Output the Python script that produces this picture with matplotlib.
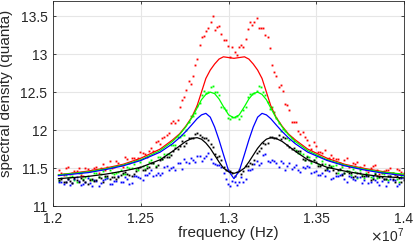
import matplotlib
matplotlib.use('Agg')
import matplotlib.pyplot as plt

plt.rcParams['font.family'] = ['Liberation Sans', 'DejaVu Sans']

# measured points (frequency in units of 1e7 Hz), two interleaved sweeps
freq_pts_a = [1.2035, 1.2060, 1.2085, 1.2110, 1.2135, 1.2160, 1.2185, 1.2210, 1.2235, 1.2260,
              1.2285, 1.2310, 1.2335, 1.2360, 1.2385, 1.2410, 1.2435, 1.2460, 1.2485, 1.2510,
              1.2535, 1.2560, 1.2585, 1.2610, 1.2635, 1.2660, 1.2685, 1.2710, 1.2735, 1.2760,
              1.2785, 1.2810, 1.2835, 1.2860, 1.2885, 1.2910, 1.2935, 1.2960, 1.2985, 1.3010,
              1.3035, 1.3060, 1.3085, 1.3110, 1.3135, 1.3160, 1.3185, 1.3210, 1.3235, 1.3260,
              1.3285, 1.3310, 1.3335, 1.3360, 1.3385, 1.3410, 1.3435, 1.3460, 1.3485, 1.3510,
              1.3535, 1.3560, 1.3585, 1.3610, 1.3635, 1.3660, 1.3685, 1.3710, 1.3735, 1.3760,
              1.3785, 1.3810, 1.3835, 1.3860, 1.3885, 1.3910, 1.3935, 1.3960, 1.3985]

freq_pts_b = [1.20475, 1.20725, 1.20975, 1.21225, 1.21475, 1.21725, 1.21975, 1.22225, 1.22475, 1.22725,
              1.22975, 1.23225, 1.23475, 1.23725, 1.23975, 1.24225, 1.24475, 1.24725, 1.24975, 1.25225,
              1.25475, 1.25725, 1.25975, 1.26225, 1.26475, 1.26725, 1.26975, 1.27225, 1.27475, 1.27725,
              1.27975, 1.28225, 1.28475, 1.28725, 1.28975, 1.29225, 1.29475, 1.29725, 1.29975, 1.30225,
              1.30475, 1.30725, 1.30975, 1.31225, 1.31475, 1.31725, 1.31975, 1.32225, 1.32475, 1.32725,
              1.32975, 1.33225, 1.33475, 1.33725, 1.33975, 1.34225, 1.34475, 1.34725, 1.34975, 1.35225,
              1.35475, 1.35725, 1.35975, 1.36225, 1.36475, 1.36725, 1.36975, 1.37225, 1.37475, 1.37725,
              1.37975, 1.38225, 1.38475, 1.38725, 1.38975, 1.39225, 1.39475, 1.39725, 1.39975]

red_pts_a = [11.47, 11.41, 11.51, 11.43, 11.46, 11.41, 11.50, 11.46, 11.50, 11.43,
             11.55, 11.52, 11.50, 11.59, 11.54, 11.64, 11.56, 11.63, 11.63, 11.70,
             11.65, 11.76, 11.84, 11.82, 11.91, 11.96, 12.12, 12.13, 12.40, 12.53,
             12.61, 12.86, 13.12, 13.24, 13.35, 13.50, 13.36, 13.26, 13.18, 12.96,
             13.03, 13.10, 13.10, 13.33, 13.38, 13.48, 13.35, 13.25, 13.08, 12.77,
             12.57, 12.51, 12.33, 12.11, 12.10, 11.95, 11.91, 11.80, 11.84, 11.71,
             11.70, 11.62, 11.67, 11.62, 11.57, 11.61, 11.52, 11.56, 11.58, 11.50,
             11.47, 11.50, 11.54, 11.42, 11.46, 11.48, 11.43, 11.49, 11.45]
red_pts_b = [11.43, 11.50, 11.42, 11.46, 11.50, 11.40, 11.49, 11.47, 11.52, 11.50,
             11.47, 11.59, 11.52, 11.57, 11.52, 11.62, 11.63, 11.60, 11.71, 11.68,
             11.72, 11.73, 11.85, 11.89, 11.93, 12.09, 12.09, 12.30, 12.44, 12.64,
             12.71, 12.93, 13.22, 13.30, 13.43, 13.32, 13.37, 13.18, 13.11, 13.09,
             12.99, 13.12, 13.20, 13.43, 13.42, 13.35, 13.35, 13.22, 12.86, 12.71,
             12.59, 12.35, 12.26, 12.11, 11.99, 11.97, 11.87, 11.75, 11.79, 11.71,
             11.74, 11.63, 11.63, 11.62, 11.54, 11.63, 11.53, 11.55, 11.51, 11.54,
             11.45, 11.53, 11.48, 11.44, 11.48, 11.50, 11.41, 11.47, 11.44]

green_pts_a = [11.33, 11.42, 11.37, 11.40, 11.32, 11.43, 11.38, 11.36, 11.43, 11.38,
               11.46, 11.37, 11.43, 11.43, 11.48, 11.42, 11.50, 11.55, 11.48, 11.53,
               11.53, 11.61, 11.53, 11.65, 11.68, 11.68, 11.80, 11.91, 11.93, 12.00,
               12.18, 12.22, 12.36, 12.52, 12.50, 12.58, 12.50, 12.30, 12.26, 12.15,
               12.17, 12.15, 12.26, 12.43, 12.48, 12.52, 12.57, 12.46, 12.28, 12.24,
               12.09, 12.02, 11.89, 11.89, 11.74, 11.70, 11.61, 11.65, 11.60, 11.55,
               11.59, 11.49, 11.53, 11.54, 11.47, 11.43, 11.46, 11.49, 11.37, 11.41,
               11.43, 11.38, 11.43, 11.38, 11.42, 11.34, 11.44, 11.36, 11.39]
green_pts_b = [11.37, 11.41, 11.38, 11.34, 11.44, 11.36, 11.40, 11.34, 11.43, 11.42,
               11.38, 11.47, 11.42, 11.45, 11.42, 11.51, 11.50, 11.49, 11.58, 11.49,
               11.58, 11.57, 11.65, 11.62, 11.69, 11.80, 11.80, 11.91, 11.93, 12.11,
               12.18, 12.32, 12.46, 12.49, 12.57, 12.50, 12.46, 12.29, 12.16, 12.17,
               12.19, 12.19, 12.31, 12.47, 12.49, 12.58, 12.50, 12.37, 12.30, 12.16,
               11.99, 11.99, 11.87, 11.85, 11.70, 11.68, 11.66, 11.57, 11.64, 11.54,
               11.55, 11.51, 11.53, 11.44, 11.51, 11.46, 11.41, 11.45, 11.47, 11.37,
               11.41, 11.37, 11.37, 11.44, 11.35, 11.39, 11.42, 11.32, 11.40]

blue_pts_a = [11.32, 11.29, 11.36, 11.30, 11.38, 11.28, 11.32, 11.30, 11.34, 11.26,
              11.34, 11.37, 11.29, 11.33, 11.32, 11.38, 11.29, 11.39, 11.38, 11.34,
              11.41, 11.47, 11.41, 11.41, 11.51, 11.47, 11.51, 11.57, 11.49, 11.58,
              11.63, 11.58, 11.66, 11.63, 11.70, 11.57, 11.54, 11.51, 11.36, 11.26,
              11.31, 11.31, 11.32, 11.47, 11.49, 11.59, 11.57, 11.68, 11.58, 11.59,
              11.52, 11.57, 11.53, 11.49, 11.54, 11.45, 11.50, 11.52, 11.45, 11.41,
              11.43, 11.47, 11.35, 11.39, 11.41, 11.35, 11.40, 11.35, 11.38, 11.30,
              11.40, 11.32, 11.34, 11.28, 11.36, 11.31, 11.34, 11.26, 11.37]
blue_pts_b = [11.31, 11.32, 11.28, 11.35, 11.33, 11.29, 11.37, 11.26, 11.33, 11.30,
              11.36, 11.29, 11.33, 11.39, 11.32, 11.36, 11.30, 11.40, 11.37, 11.41,
              11.44, 11.39, 11.44, 11.43, 11.53, 11.50, 11.48, 11.56, 11.62, 11.56,
              11.60, 11.66, 11.59, 11.66, 11.62, 11.55, 11.54, 11.43, 11.29, 11.33,
              11.28, 11.38, 11.36, 11.47, 11.55, 11.54, 11.67, 11.59, 11.60, 11.57,
              11.59, 11.48, 11.56, 11.51, 11.47, 11.51, 11.53, 11.43, 11.46, 11.41,
              11.40, 11.46, 11.37, 11.40, 11.42, 11.31, 11.38, 11.34, 11.38, 11.34,
              11.30, 11.39, 11.31, 11.33, 11.27, 11.35, 11.34, 11.29, 11.37]

black_pts_a = [11.34, 11.32, 11.35, 11.30, 11.34, 11.37, 11.31, 11.34, 11.33, 11.38,
               11.31, 11.39, 11.38, 11.36, 11.41, 11.45, 11.41, 11.42, 11.50, 11.47,
               11.50, 11.56, 11.52, 11.60, 11.65, 11.64, 11.72, 11.75, 11.85, 11.83,
               11.89, 11.95, 11.93, 11.89, 11.87, 11.78, 11.64, 11.60, 11.48, 11.46,
               11.40, 11.47, 11.46, 11.53, 11.55, 11.70, 11.77, 11.82, 11.91, 11.89,
               11.93, 11.91, 11.81, 11.75, 11.73, 11.73, 11.61, 11.61, 11.60, 11.53,
               11.55, 11.50, 11.51, 11.44, 11.49, 11.43, 11.44, 11.38, 11.44, 11.39,
               11.41, 11.34, 11.42, 11.38, 11.35, 11.39, 11.35, 11.40, 11.32]
black_pts_b = [11.36, 11.31, 11.33, 11.37, 11.32, 11.34, 11.29, 11.36, 11.34, 11.37,
               11.39, 11.35, 11.38, 11.38, 11.44, 11.42, 11.40, 11.46, 11.51, 11.47,
               11.51, 11.56, 11.54, 11.62, 11.65, 11.67, 11.76, 11.79, 11.79, 11.89,
               11.89, 11.96, 11.91, 11.89, 11.82, 11.69, 11.66, 11.52, 11.47, 11.43,
               11.45, 11.42, 11.53, 11.56, 11.61, 11.73, 11.83, 11.83, 11.91, 11.90,
               11.88, 11.89, 11.78, 11.76, 11.73, 11.62, 11.64, 11.59, 11.58, 11.53,
               11.48, 11.54, 11.47, 11.47, 11.41, 11.46, 11.44, 11.39, 11.44, 11.39,
               11.39, 11.35, 11.40, 11.38, 11.35, 11.40, 11.32, 11.37, 11.34]

# fitted curves
freq_fit = [1.2031, 1.2201, 1.2301, 1.2401, 1.2501, 1.2611, 1.2681, 1.2721, 1.2756, 1.2791,
            1.2821, 1.2846, 1.2871, 1.2896, 1.2921, 1.2946, 1.2971, 1.3001, 1.3031, 1.3061,
            1.3091, 1.3116, 1.3141, 1.3166, 1.3191, 1.3216, 1.3241, 1.3271, 1.3306, 1.3341,
            1.3381, 1.3451, 1.3561, 1.3661, 1.3761, 1.3861, 1.3996]

red_fit = [11.41, 11.46, 11.50, 11.55, 11.63, 11.75, 11.87, 11.95, 12.05, 12.17,
           12.32, 12.50, 12.68, 12.79, 12.87, 12.935, 12.965, 12.955, 12.945, 12.955,
           12.965, 12.935, 12.87, 12.79, 12.68, 12.50, 12.32, 12.17, 12.05, 11.95,
           11.87, 11.75, 11.63, 11.55, 11.50, 11.46, 11.41]

green_fit = [11.41, 11.45, 11.49, 11.54, 11.61, 11.73, 11.85, 11.94, 12.04, 12.16,
             12.29, 12.40, 12.47, 12.50, 12.48, 12.41, 12.31, 12.20, 12.16, 12.20,
             12.31, 12.41, 12.48, 12.50, 12.47, 12.40, 12.29, 12.16, 12.04, 11.94,
             11.85, 11.73, 11.61, 11.54, 11.49, 11.45, 11.42]

blue_fit = [11.40, 11.44, 11.48, 11.53, 11.60, 11.71, 11.82, 11.90, 11.98, 12.07,
            12.15, 12.20, 12.22, 12.17, 12.04, 11.87, 11.68, 11.46, 11.36, 11.46,
            11.68, 11.87, 12.04, 12.17, 12.22, 12.20, 12.15, 12.07, 11.98, 11.90,
            11.82, 11.71, 11.60, 11.53, 11.48, 11.44, 11.40]

black_fit = [11.36, 11.39, 11.42, 11.46, 11.51, 11.61, 11.72, 11.79, 11.85, 11.89,
             11.90, 11.88, 11.83, 11.76, 11.67, 11.58, 11.50, 11.45, 11.43, 11.45,
             11.50, 11.58, 11.67, 11.76, 11.83, 11.88, 11.90, 11.89, 11.85, 11.79,
             11.72, 11.61, 11.51, 11.46, 11.42, 11.39, 11.37]

xticks = [1.2, 1.25, 1.3, 1.35, 1.4]
xtick_labels = ['1.2', '1.25', '1.3', '1.35', '1.4']
yticks = [11, 11.5, 12, 12.5, 13, 13.5]
ytick_labels = ['11', '11.5', '12', '12.5', '13', '13.5']

W, H = 415, 249
fig = plt.figure(figsize=(W / 100, H / 100), dpi=100)
ax = fig.add_axes([53 / W, 1 - 206 / H, (404 - 53) / W, 205 / H])

dark = '#262626'
colors = ['#ff0000', '#00ff00', '#0000ff', '#000000']
pts = [(red_pts_a, red_pts_b), (green_pts_a, green_pts_b),
       (blue_pts_a, blue_pts_b), (black_pts_a, black_pts_b)]
for (ya, yb), c in zip(pts, colors):
    ax.plot(freq_pts_a + freq_pts_b, ya + yb, linestyle='none', marker='s',
            markersize=1.35, markeredgewidth=0, color=c)
for ys, c in zip([red_fit, green_fit, blue_fit, black_fit], colors):
    ax.plot(freq_fit, ys, '-', color=c, linewidth=0.9)

ax.set_xlim(1.2, 1.4)
ax.set_ylim(11, 13.7)
ax.set_xticks(xticks)
ax.set_xticklabels(xtick_labels)
ax.set_yticks(yticks)
ax.set_yticklabels(ytick_labels)
ax.grid(True, color='#e6e6e6', linewidth=0.8)
ax.set_axisbelow(True)
ax.tick_params(direction='in', length=2.5, width=0.6, colors=dark,
               labelsize=10, top=True, right=True)
ax.tick_params(axis='x', pad=4)
ax.tick_params(axis='y', pad=4)
for s in ax.spines.values():
    s.set_color(dark)
    s.set_linewidth(0.6)

ax.set_xlabel('frequency (Hz)', fontsize=11, color=dark, labelpad=0)
ax.set_ylabel('spectral density (quanta)', fontsize=11, color=dark)
ax.yaxis.set_label_coords(-0.115, 0.55)
ax.text(1.0, -0.1, r'$\times\mathregular{10^{7}}$', transform=ax.transAxes,
        ha='right', va='top', fontsize=10, color=dark)

fig.savefig('out.png', dpi=100)
